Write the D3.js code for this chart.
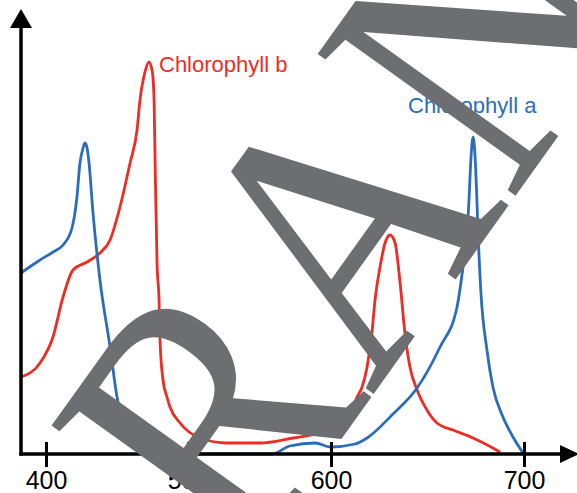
<!DOCTYPE html>
<html>
<head>
<meta charset="utf-8">
<script src="https://cdn.jsdelivr.net/npm/d3@7"></script>
<style>
body { margin: 0; background: #fff; }
</style>
</head>
<body>
<div id="chart"></div>
<script>
// absorption spectra (wavelength in nm, relative absorbance)
let chlAWave = [382.4, 395.8, 405, 412, 418.3, 421.8, 423.9, 426.1, 427.5, 428.9, 430.3, 433.1, 438, 445.1, 450, 455.6, 462.7, 473.2, 508, 543, 558.7, 571.2, 589.1, 599.5, 612.5, 618.7, 632.1, 644.6, 656.5, 665.3, 668.4, 670.5, 671.5, 672.3, 673.6, 674.9, 675.6, 676.2, 677.7, 680.8, 683.9, 689.1, 694.3, 699.5]
let chlAAbs = [0.4525, 0.485, 0.505, 0.5225, 0.565, 0.6425, 0.7275, 0.765, 0.7775, 0.765, 0.7275, 0.6025, 0.435, 0.2675, 0.1425, 0.065, 0.025, 0.006, 0, 0, 0, 0.02, 0.0275, 0.0175, 0.025, 0.04, 0.1, 0.165, 0.2675, 0.3675, 0.4675, 0.5525, 0.635, 0.72, 0.7925, 0.72, 0.635, 0.5525, 0.4025, 0.26, 0.1675, 0.0925, 0.0425, 0.0025]

let chlBWave = [382.4, 395.8, 404.9, 412, 419, 428.9, 438, 445.1, 452.1, 459.2, 464.1, 466.2, 469.7, 472.5, 474.9, 476.1, 476.8, 478.2, 479.6, 480.3, 482.4, 485.2, 487.3, 494.4, 508.4, 527.3, 550.3, 573.4, 592.3, 604.7, 609.8, 613.5, 616.1, 618.7, 621.2, 622.8, 625.4, 628, 630.6, 633.2, 635.8, 638.3, 640.9, 644.6, 649.7, 654.9, 663.2, 673.6, 683.9, 687.6]
let chlBAbs = [0.1925, 0.2275, 0.2925, 0.3925, 0.46, 0.48, 0.5025, 0.535, 0.6175, 0.7275, 0.81, 0.885, 0.955, 0.98, 0.955, 0.885, 0.735, 0.4775, 0.385, 0.285, 0.185, 0.1425, 0.1175, 0.0775, 0.04, 0.0275, 0.0275, 0.04, 0.0525, 0.0725, 0.0975, 0.1425, 0.1675, 0.2175, 0.3025, 0.385, 0.4675, 0.5275, 0.5475, 0.5275, 0.4275, 0.3025, 0.2175, 0.16, 0.11, 0.0775, 0.06, 0.04, 0.015, 0.005]

let tickValues = [400, 500, 600, 700]
let tickLabels = ['400', '500', '600', '700']
let seriesNames = ['Chlorophyll a', 'Chlorophyll b']

let blue = '#2a6dbb'
let red = '#ee2c24'

let svg = d3.select('#chart').append('svg')
.attr('width', 577)
.attr('height', 493)

// the drawn axis is not evenly spaced, so map it piece by piece
let x = d3.scaleLinear().domain(tickValues).range([46, 188, 331, 524])
let y = d3.scaleLinear().domain([0, 1]).range([454, 54])

let line = d3.line()
.x(d => x(d[0]))
.y(d => y(d[1]))
.curve(d3.curveMonotoneX)

let chlA = d3.zip(chlAWave, chlAAbs)
let chlB = d3.zip(chlBWave, chlBAbs)

svg.append('path')
.datum(chlB)
.attr('fill', 'none')
.attr('stroke', red)
.attr('stroke-width', 2.8)
.attr('d', line)

svg.append('path')
.datum(chlA)
.attr('fill', 'none')
.attr('stroke', blue)
.attr('stroke-width', 2.8)
.attr('d', line)

// axes
let xAxis = svg.append('g')
.attr('transform', 'translate(0,' + y(0) + ')')
.call(d3.axisBottom(x).tickValues(tickValues).tickFormat((d, i) => tickLabels[i]).tickSize(13))

xAxis.select('.domain').remove()
xAxis.selectAll('.tick line')
.attr('y1', -12)
.attr('stroke', '#000')
.attr('stroke-width', 3)
xAxis.selectAll('.tick text')
.attr('y', 35)
.attr('dy', 0)
.attr('fill', '#000')
.style('font-family', 'Liberation Sans, Arial, sans-serif')
.style('font-size', '25px')

svg.append('line')
.attr('x1', 19.5).attr('x2', 562)
.attr('y1', y(0)).attr('y2', y(0))
.attr('stroke', '#000')
.attr('stroke-width', 3.5)

svg.append('line')
.attr('x1', 21).attr('x2', 21)
.attr('y1', y(0) + 1.75).attr('y2', 26)
.attr('stroke', '#000')
.attr('stroke-width', 3.5)

svg.append('path')
.attr('d', 'M560,' + (y(0) - 9) + 'L579,' + y(0) + 'L560,' + (y(0) + 9) + 'Z')
.attr('fill', '#000')

svg.append('path')
.attr('d', 'M10,28L21,9L32,28Z')
.attr('fill', '#000')

// series labels
svg.append('text')
.attr('x', 159)
.attr('y', 72)
.attr('fill', red)
.style('font-family', 'Liberation Sans, Arial, sans-serif')
.style('font-size', '22px')
.text(seriesNames[1])

svg.append('text')
.attr('x', 408)
.attr('y', 113)
.attr('fill', blue)
.style('font-family', 'Liberation Sans, Arial, sans-serif')
.style('font-size', '22px')
.text(seriesNames[0])

// watermark over the figure
svg.append('text')
.attr('transform', 'translate(244,575) rotate(-54.4) scale(1,1.13)')
.attr('fill', '#6d6e71')
.style('font-family', 'Liberation Serif, Times New Roman, serif')
.style('font-size', '329px')
.text('RANDOM')
</script>
</body>
</html>
